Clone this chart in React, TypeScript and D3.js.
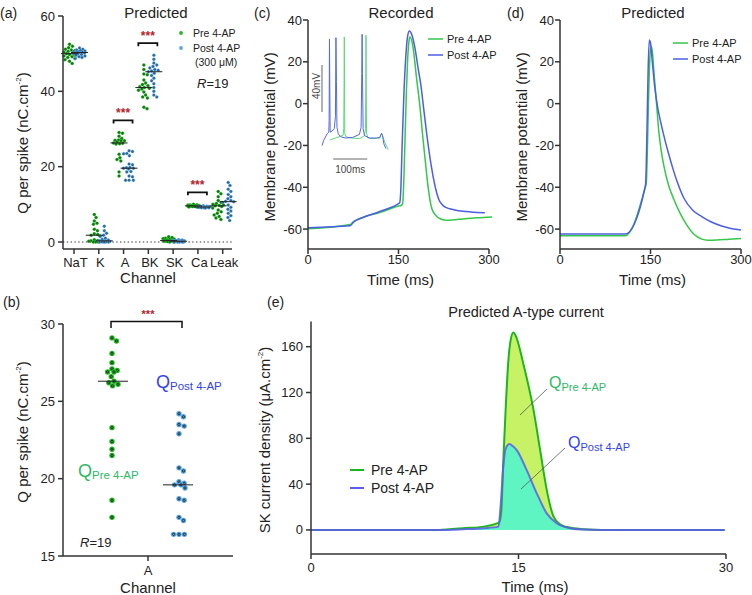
import React from "react";
import * as d3 from "d3";

const FONT = "'Liberation Sans', Arial, Helvetica, sans-serif";
const GREEN_DOT = "#25b825";
const BLUE_DOT = "#5aa4ec";
const GREEN_LINE = "#34c74a";
const BLUE_LINE = "#4b5fe2";
const AXIS = "#333";
const STAR = "#b3232a";

// ---- (a) / (b) charge per spike, 19 cells each ----
const channels = ["NaT", "K", "A", "BK", "SK", "Ca", "Leak"];
const sigChannels = ["A", "BK", "Ca"];

const preNaT = [52.5, 52.0, 51.6, 51.2, 51.0, 50.8, 50.6, 50.4, 50.2, 50.0, 49.8, 49.6, 49.4, 49.2, 49.0, 48.7, 48.4, 48.0, 47.4];
const postNaT = [51.5, 51.2, 51.0, 50.8, 50.7, 50.6, 50.5, 50.4, 50.3, 50.3, 50.2, 50.1, 50.0, 49.8, 49.6, 49.4, 49.2, 49.0, 48.7];
const preK = [7.3, 6.5, 5.6, 5.0, 4.7, 3.4, 3.0, 2.2, 2.0, 1.8, 1.6, 0.6, 0.3, 0.1, 0, 0, 0, 0.2, 0.4];
const postK = [4.2, 3.0, 2.3, 1.8, 1.5, 1.0, 0.7, 0.5, 0.3, 0.2, 0.1, 0, 0, 0, 0.1, 0.2, 0.3, 0, 0];
const preA = [29.1, 28.9, 28.1, 27.5, 27.1, 27.0, 26.9, 26.9, 26.6, 26.3, 26.2, 26.1, 26.0, 23.3, 22.4, 21.9, 21.5, 18.6, 17.5];
const postA = [24.2, 24.0, 23.5, 23.4, 22.9, 20.7, 20.5, 19.8, 19.7, 19.6, 19.6, 19.4, 18.7, 18.6, 17.5, 17.3, 16.4, 16.4, 16.4];
const preBK = [47.0, 45.8, 44.6, 44.4, 43.0, 42.2, 41.8, 41.5, 41.2, 41.0, 40.8, 40.6, 40.3, 39.8, 39.0, 38.5, 38.2, 35.8, 35.4];
const postBK = [49.6, 48.5, 47.5, 47.0, 46.6, 46.2, 45.8, 45.6, 45.4, 45.2, 44.8, 44.2, 43.5, 42.8, 42.0, 41.0, 40.0, 39.0, 38.5];
const preSK = [1.4, 1.2, 1.0, 0.9, 0.8, 0.7, 0.6, 0.5, 0.5, 0.4, 0.4, 0.3, 0.3, 0.2, 0.2, 0.1, 0.1, 0, 0];
const postSK = [0.6, 0.5, 0.4, 0.4, 0.3, 0.3, 0.3, 0.2, 0.2, 0.2, 0.1, 0.1, 0.1, 0.1, 0, 0, 0, 0, 0];
const preCa = [10.0, 9.9, 9.8, 9.8, 9.7, 9.7, 9.7, 9.6, 9.6, 9.6, 9.6, 9.5, 9.5, 9.5, 9.4, 9.4, 9.4, 9.3, 9.3];
const postCa = [9.6, 9.5, 9.5, 9.4, 9.4, 9.4, 9.3, 9.3, 9.3, 9.3, 9.3, 9.2, 9.2, 9.2, 9.2, 9.1, 9.1, 9.1, 9.0];
const preLeak = [13.4, 12.8, 12.0, 11.0, 10.5, 10.2, 10.0, 9.8, 9.7, 9.6, 9.4, 9.0, 8.5, 8.0, 7.6, 7.2, 6.8, 6.4, 6.0];
const postLeak = [15.8, 15.0, 14.0, 13.4, 12.6, 12.0, 11.5, 11.0, 10.8, 10.7, 10.5, 9.8, 9.2, 8.7, 8.2, 7.6, 7.0, 6.5, 5.7];

const preByChannel = [preNaT, preK, preA, preBK, preSK, preCa, preLeak];
const postByChannel = [postNaT, postK, postA, postBK, postSK, postCa, postLeak];

const ticksA = [0, 20, 40, 60];
const ticksB = [15, 20, 25, 30];

// ---- (c) recorded AP ----
const recPreT = [0, 70, 75, 90, 120, 150, 155, 157, 159, 161, 163, 165, 167, 169, 174, 180, 185, 190, 196, 200, 205, 212, 220, 230, 250, 280, 305];
const recPreV = [-59.8, -57.8, -56.5, -54.5, -52, -49, -48.6, -47.5, -35, -15, 5, 20, 29, 32, 27, 12, 0, -15, -32, -42, -50, -53.5, -55.2, -55.8, -55.3, -54.6, -54.2];
const recPostT = [0, 70, 75, 90, 120, 150, 152, 154, 156, 159, 162, 165, 168, 172, 177, 183, 187, 192, 197, 205, 211, 217, 225, 235, 250, 270, 293];
const recPostV = [-59.3, -58.4, -56.8, -54.6, -51.5, -47.8, -47.4, -40, -20, 5, 22, 32, 34.7, 33, 27, 16, 9, -3, -15, -31, -40, -46, -49, -50.3, -51.2, -51.8, -52.2];

// inset: spike train (ms, mV)
const insetPreT = [23, 35, 50, 62, 64, 65, 65.6, 66.3, 67, 70, 85, 110, 125, 128, 129, 129.4, 130, 131, 135, 150, 170, 175, 178, 185, 195];
const insetPreV = [-61.7, -60.5, -59, -57.5, -52, -10, 26, -10, -56, -59, -60, -60.5, -58, -52, -10, 27.5, -10, -56, -60, -60.5, -60, -56, -58, -64, -70];
const insetPostT = [0, 5, 15, 20, 21, 22, 23, 24, 30, 36, 39.5, 41, 42.5, 44, 48, 55, 70, 90, 110, 115, 117, 118, 119, 121, 125, 140, 160, 170, 175, 178, 182, 188];
const insetPostV = [-66.5, -62, -56.5, -55, -45, 24.3, -20, -55, -54, -52, -42, 25.4, -12, -51, -56.5, -59, -60, -59.5, -57, -51, -5, 28.3, -5, -52, -58, -60, -60, -59.5, -56, -58, -65, -69];

// ---- (d) predicted AP ----
const predPreT = [0, 108, 140, 143, 145, 147, 149, 151, 153, 156, 160, 164, 168, 173, 180, 189, 200, 210, 222, 235, 245, 260, 280, 300];
const predPreV = [-63.2, -63.2, -41.3, -38, -20, 5, 22, 27.5, 25, 14, 0, -14, -23, -31, -39, -46, -53, -58, -62.5, -64.8, -65.3, -65.2, -64.8, -64.5];
const predPostT = [0, 108, 140, 142, 144, 146, 148, 150, 153, 157, 162, 167, 171, 180, 186, 195, 205, 220, 235, 250, 268, 285, 300];
const predPostV = [-62.4, -62.4, -41.3, -38, -15, 15, 30.4, 29, 20, 8, -2, -9, -14, -24, -30, -38, -45, -51, -54, -56.5, -58.5, -59.8, -60.4];

// ---- (e) predicted A-type current ----
const curPreT = [0, 9.3, 10, 11, 12.5, 13.5, 13.6, 13.75, 13.9, 14.05, 14.25, 14.45, 14.63, 14.85, 15.35, 16.08, 16.56, 17.04, 17.52, 18.0, 18.5, 19.7, 21, 29.9];
const curPreV = [0, 0, 0.6, 1.5, 2.9, 6, 6.5, 15, 60, 100, 145, 167, 172.5, 168, 145, 105, 70, 35, 12, 5, 2.5, 0.6, 0, 0];
const curPostT = [0, 9.3, 11, 12.5, 13.55, 13.7, 13.9, 14.05, 14.34, 14.6, 14.87, 15.6, 16.32, 17.04, 17.76, 18.73, 19.7, 21, 29.9];
const curPostV = [0, 0, 0.6, 1.5, 2.9, 20, 55, 70, 75, 73, 69.8, 52, 32, 14.5, 5.8, 1.5, 0.3, 0, 0];

type Pt = { x: number; y: number };

// simple beeswarm: keep dots from overlapping, bounded width
function swarm(vals: number[], y: (v: number) => number, cx: number, r: number, maxHalf: number): Pt[] {
  const placed: Pt[] = [];
  const d = 2 * r;
  const sorted = [...vals].sort((a, b) => b - a);
  for (const v of sorted) {
    const py = y(v);
    const cands = [cx];
    for (const p of placed) {
      const dy = Math.abs(p.y - py);
      if (dy < d) {
        const dx = Math.sqrt(d * d - dy * dy);
        cands.push(p.x + dx + 0.01, p.x - dx - 0.01);
      }
    }
    const inBounds = cands.filter((c) => Math.abs(c - cx) <= maxHalf);
    inBounds.sort((a, b) => Math.abs(a - cx) - Math.abs(b - cx));
    let x = inBounds.find((c) => placed.every((p) => (p.x - c) ** 2 + (p.y - py) ** 2 >= d * d - 0.05));
    if (x === undefined) {
      // nothing free: take the least crowded spot
      let best = cx;
      let bestD = -1;
      for (let c = cx - maxHalf; c <= cx + maxHalf; c += 0.5) {
        const m = d3.min(placed, (p) => (p.x - c) ** 2 + (p.y - py) ** 2) ?? 1e9;
        if (m > bestD) { bestD = m; best = c; }
      }
      x = best;
    }
    placed.push({ x, y: py });
  }
  return placed;
}

function Dot({ x, y, r, fill }: { x: number; y: number; r: number; fill: string }) {
  return (
    <g>
      <circle cx={x} cy={y} r={r} fill={fill} />
      <circle cx={x} cy={y} r={r * 0.42} fill="none" stroke="#102a14" strokeWidth={r * 0.32} />
    </g>
  );
}

const T = (props: any) => <text fontFamily={FONT} fill="#222" {...props} />;

function PanelA() {
  const y = d3.scaleLinear().domain([0, 60]).range([242, 16]);
  const x = d3.scalePoint<string>().domain(channels).range([74, 222.7]);
  const r = 1.75;
  return (
    <g>
      <T x={0} y={18} fontSize={14}>(a)</T>
      <T x={156} y={18} fontSize={15} textAnchor="middle">Predicted</T>
      {/* zero line */}
      <line x1={63} x2={232} y1={y(0)} y2={y(0)} stroke="#333" strokeDasharray="1.4 2.4" strokeWidth={1} />
      {channels.map((c, i) => {
        const cx = x(c)!;
        const pre = swarm(preByChannel[i], y, cx - 4.5, r, 5.5);
        const post = swarm(postByChannel[i], y, cx + 5.5, r, 5.5);
        const mPre = y(d3.median(preByChannel[i])!);
        const mPost = y(d3.median(postByChannel[i])!);
        return (
          <g key={c}>
            {pre.map((p, j) => <Dot key={"a" + j} x={p.x} y={p.y} r={r} fill={GREEN_DOT} />)}
            {post.map((p, j) => <Dot key={"b" + j} x={p.x} y={p.y} r={r} fill={BLUE_DOT} />)}
            <line x1={cx - 13} x2={cx + 4} y1={mPre} y2={mPre} stroke="#222" strokeWidth={1} />
            <line x1={cx - 3} x2={cx + 14} y1={mPost} y2={mPost} stroke="#222" strokeWidth={1} />
          </g>
        );
      })}
      {sigChannels.map((c) => {
        const i = channels.indexOf(c);
        const cx = x(c)!;
        const top = y(Math.max(...preByChannel[i], ...postByChannel[i])) - 12;
        return (
          <g key={c}>
            <path d={`M${cx - 10},${top + 3}V${top}H${cx + 9}V${top + 3}`} fill="none" stroke="#111" strokeWidth={1.8} />
            <T x={cx - 0.5} y={top - 3} fontSize={12} fill={STAR} textAnchor="middle" fontWeight="bold">***</T>
          </g>
        );
      })}
      {/* axes */}
      <line x1={63} x2={63} y1={y(60)} y2={249} stroke={AXIS} strokeWidth={1.5} />
      {ticksA.map((t) => (
        <g key={t}>
          <line x1={58} x2={63} y1={y(t)} y2={y(t)} stroke={AXIS} strokeWidth={1.5} />
          <T x={55} y={y(t) + 4.5} fontSize={13} textAnchor="end">{t}</T>
        </g>
      ))}
      <line x1={63} x2={232} y1={249} y2={249} stroke={AXIS} strokeWidth={1.5} />
      {channels.map((c) => (
        <g key={c}>
          <line x1={x(c)} x2={x(c)} y1={249} y2={254} stroke={AXIS} strokeWidth={1.5} />
          <T x={x(c)! + 1.5} y={267} fontSize={13} textAnchor="middle">{c}</T>
        </g>
      ))}
      <T x={148} y={283} fontSize={15} textAnchor="middle">Channel</T>
      <T transform="translate(28,143) rotate(-90)" fontSize={15} textAnchor="middle">
        Q per spike  (nC.cm<tspan fontSize={8} dy={-7}>-2</tspan><tspan dy={7}>)</tspan>
      </T>
      {/* legend */}
      <circle cx={181} cy={33} r={1.9} fill={GREEN_DOT} />
      <T x={193} y={37} fontSize={10.5}>Pre 4-AP</T>
      <circle cx={181} cy={48} r={1.9} fill={BLUE_DOT} />
      <T x={193} y={52} fontSize={10.5}>Post 4-AP</T>
      <T x={195} y={66} fontSize={10.5}>(300 μM)</T>
      <T x={197} y={88} fontSize={13}><tspan fontStyle="italic">R</tspan>=19</T>
    </g>
  );
}

function PanelB() {
  const y = d3.scaleLinear().domain([15, 30]).range([556, 324]);
  const x = d3.scalePoint<string>().domain(["A"]).range([63, 233]).padding(0.5);
  const cx = x("A")!;
  const r = 2.7;
  const pre = swarm(preA, y, cx - 36, r, 6);
  const post = swarm(postA, y, cx + 31, r, 6);
  const mPre = y(d3.median(preA)!);
  const mPost = y(d3.median(postA)!);
  return (
    <g>
      <T x={3} y={307} fontSize={14}>(b)</T>
      {pre.map((p, j) => <Dot key={"a" + j} x={p.x} y={p.y} r={r} fill={GREEN_DOT} />)}
      {post.map((p, j) => <Dot key={"b" + j} x={p.x} y={p.y} r={r} fill={BLUE_DOT} />)}
      <line x1={cx - 50} x2={cx - 20} y1={mPre} y2={mPre} stroke="#222" strokeWidth={1} />
      <line x1={cx + 15} x2={cx + 45} y1={mPost} y2={mPost} stroke="#222" strokeWidth={1} />
      <path d={`M${cx - 37},${y(30) + 4}V${y(30) - 2.5}H${cx + 34}V${y(30) + 4}`} fill="none" stroke="#111" strokeWidth={1.5} />
      <T x={cx} y={y(30) - 6.5} fontSize={11} fill={STAR} textAnchor="middle" fontWeight="bold">***</T>
      <line x1={63} x2={63} y1={y(30)} y2={y(15)} stroke={AXIS} strokeWidth={1.5} />
      {ticksB.map((t) => (
        <g key={t}>
          <line x1={58} x2={63} y1={y(t)} y2={y(t)} stroke={AXIS} strokeWidth={1.5} />
          <T x={55} y={y(t) + 4.5} fontSize={13} textAnchor="end">{t}</T>
        </g>
      ))}
      <line x1={63} x2={233} y1={y(15)} y2={y(15)} stroke={AXIS} strokeWidth={1.5} />
      <line x1={cx} x2={cx} y1={y(15)} y2={y(15) + 5} stroke={AXIS} strokeWidth={1.5} />
      <T x={cx} y={575} fontSize={13} textAnchor="middle">A</T>
      <T x={cx} y={593} fontSize={15} textAnchor="middle">Channel</T>
      <T transform="translate(28,432) rotate(-90)" fontSize={15} textAnchor="middle">
        Q per spike  (nC.cm<tspan fontSize={8} dy={-7}>-2</tspan><tspan dy={7}>)</tspan>
      </T>
      <T x={78} y={477} fontSize={18} fill="#2fb866">Q<tspan fontSize={11.5} dy={2}>Pre 4-AP</tspan></T>
      <T x={156} y={388} fontSize={18} fill="#3344ee">Q<tspan fontSize={11.5} dy={2}>Post 4-AP</tspan></T>
      <T x={80} y={547} fontSize={13}><tspan fontStyle="italic">R</tspan>=19</T>
    </g>
  );
}

function VoltagePanel({ label, labelX, title, x0, pre, post, legend, inset }: any) {
  const x = d3.scaleLinear().domain([0, 300]).range([x0, x0 + 181]);
  const y = d3.scaleLinear().domain([-70, 40]).range([250, 20]);
  const line = d3.line<[number, number]>().x((d) => x(d[0])).y((d) => y(d[1])).curve(d3.curveMonotoneX);
  return (
    <g>
      <T x={labelX} y={18} fontSize={14}>{label}</T>
      <T x={x0 + 93} y={18} fontSize={15} textAnchor="middle">{title}</T>
      {inset}
      <path d={line(pre) ?? ""} fill="none" stroke={GREEN_LINE} strokeWidth={1.5} />
      <path d={line(post) ?? ""} fill="none" stroke={BLUE_LINE} strokeWidth={1.5} />
      <line x1={x0} x2={x0} y1={y(40)} y2={y(-70) - 1} stroke={AXIS} strokeWidth={1.5} />
      {y.ticks(6).filter((t) => t >= -60).map((t) => (
        <g key={t}>
          <line x1={x0 - 5} x2={x0} y1={y(t)} y2={y(t)} stroke={AXIS} strokeWidth={1.5} />
          <T x={x0 - 6} y={y(t) + 4.5} fontSize={13} textAnchor="end">{t}</T>
        </g>
      ))}
      <line x1={x0} x2={x(300)} y1={y(-70) - 1} y2={y(-70) - 1} stroke={AXIS} strokeWidth={1.5} />
      {[0, 150, 300].map((t) => (
        <g key={t}>
          <line x1={x(t)} x2={x(t)} y1={y(-70) - 1} y2={y(-70) + 4} stroke={AXIS} strokeWidth={1.5} />
          <T x={x(t)} y={264} fontSize={13} textAnchor="middle">{t}</T>
        </g>
      ))}
      <T x={x(150) + 2} y={285} fontSize={15} textAnchor="middle">Time (ms)</T>
      <T transform={`translate(${x0 - 33},137) rotate(-90)`} fontSize={15} textAnchor="middle">
        Membrane potential (mV)
      </T>
      <line x1={legend.x} x2={legend.x + 15} y1={legend.y} y2={legend.y} stroke={GREEN_LINE} strokeWidth={1.5} />
      <T x={legend.x + 19} y={legend.y + 4} fontSize={11}>Pre 4-AP</T>
      <line x1={legend.x} x2={legend.x + 15} y1={legend.y + 16} y2={legend.y + 16} stroke={BLUE_LINE} strokeWidth={1.5} />
      <T x={legend.x + 19} y={legend.y + 20} fontSize={11}>Post 4-AP</T>
    </g>
  );
}

function Inset() {
  const x = d3.scaleLinear().domain([0, 100]).range([322, 356]);
  const y = d3.scaleLinear().domain([-60, -20]).range([138, 91]);
  const line = d3.line<[number, number]>().x((d) => x(d[0])).y((d) => y(d[1]));
  const pre = d3.zip(insetPreT, insetPreV) as [number, number][];
  const post = d3.zip(insetPostT, insetPostV) as [number, number][];
  return (
    <g>
      <path d={line(pre) ?? ""} fill="none" stroke="#5fd87a" strokeWidth={1} />
      <path d={line(post) ?? ""} fill="none" stroke="#5668e6" strokeWidth={1} />
      <line x1={322} x2={322} y1={y(-20) - 26} y2={y(-20) + 21} stroke="#666" strokeWidth={1} />
      <T transform="translate(320,86) rotate(-90)" fontSize={10} fill="#444" textAnchor="middle">40mV</T>
      <line x1={x(33)} x2={x(133)} y1={159} y2={159} stroke="#666" strokeWidth={1} />
      <T x={x(83)} y={173} fontSize={10} fill="#444" textAnchor="middle">100ms</T>
    </g>
  );
}

function PanelE() {
  const x = d3.scaleLinear().domain([0, 30]).range([311, 726]);
  const y = d3.scaleLinear().domain([-21, 182]).range([554, 321.5]);
  const pre = d3.zip(curPreT, curPreV) as [number, number][];
  const post = d3.zip(curPostT, curPostV) as [number, number][];
  const area = d3.area<[number, number]>().x((d) => x(d[0])).y0(y(0)).y1((d) => y(d[1])).curve(d3.curveMonotoneX);
  const line = d3.line<[number, number]>().x((d) => x(d[0])).y((d) => y(d[1])).curve(d3.curveMonotoneX);
  return (
    <g>
      <T x={267} y={307} fontSize={14}>(e)</T>
      <T x={526} y={317} fontSize={14.5} textAnchor="middle">Predicted A-type current</T>
      <path d={area(pre) ?? ""} fill="#c7f266" />
      <path d={area(post) ?? ""} fill="#5ff5c2" />
      <path d={line(pre) ?? ""} fill="none" stroke="#1fb51f" strokeWidth={2} />
      <path d={line(post) ?? ""} fill="none" stroke="#5b5cf0" strokeWidth={2} strokeOpacity={0.85} />
      <line x1={311} x2={311} y1={y(182)} y2={y(-21)} stroke={AXIS} strokeWidth={1.5} />
      {[0, 40, 80, 120, 160].map((t) => (
        <g key={t}>
          <line x1={306} x2={311} y1={y(t)} y2={y(t)} stroke={AXIS} strokeWidth={1.5} />
          <T x={303} y={y(t) + 4.5} fontSize={13} textAnchor="end">{t}</T>
        </g>
      ))}
      <line x1={311} x2={726} y1={y(-21)} y2={y(-21)} stroke={AXIS} strokeWidth={1.5} />
      {[0, 15, 30].map((t) => (
        <g key={t}>
          <line x1={x(t)} x2={x(t)} y1={y(-21)} y2={y(-21) + 5} stroke={AXIS} strokeWidth={1.5} />
          <T x={x(t)} y={572} fontSize={13} textAnchor="middle">{t}</T>
        </g>
      ))}
      <T x={535} y={592} fontSize={15} textAnchor="middle">Time (ms)</T>
      <T transform="translate(270,440) rotate(-90)" fontSize={15} textAnchor="middle">
        SK current density (μA.cm<tspan fontSize={8} dy={-7}>-2</tspan><tspan dy={7}>)</tspan>
      </T>
      <line x1={350} x2={364} y1={470} y2={470} stroke="#1fb51f" strokeWidth={2} />
      <T x={371} y={475} fontSize={14}>Pre 4-AP</T>
      <line x1={350} x2={364} y1={488} y2={488} stroke="#5b5cf0" strokeWidth={2} />
      <T x={371} y={493} fontSize={14}>Post 4-AP</T>
      <line x1={547} x2={520} y1={389} y2={415} stroke="#555" strokeWidth={0.8} />
      <line x1={565} x2={521} y1={448} y2={489} stroke="#555" strokeWidth={0.8} />
      <T x={549} y={388} fontSize={16} fill="#2fb866">Q<tspan fontSize={11} dy={3}>Pre 4-AP</tspan></T>
      <T x={568} y={448} fontSize={16} fill="#3344ee">Q<tspan fontSize={11} dy={3}>Post 4-AP</tspan></T>
    </g>
  );
}

export default function App() {
  const recPre = d3.zip(recPreT, recPreV) as [number, number][];
  const recPost = d3.zip(recPostT, recPostV) as [number, number][];
  const predPre = d3.zip(predPreT, predPreV) as [number, number][];
  const predPost = d3.zip(predPostT, predPostV) as [number, number][];
  return (
    <svg width={752} height={595} style={{ position: "absolute", left: 0, top: 0, background: "#fff" }}>
      <PanelA />
      <PanelB />
      <VoltagePanel label="(c)" labelX={254} title="Recorded" x0={308} pre={recPre} post={recPost}
        legend={{ x: 428, y: 39 }} inset={<Inset />} />
      <VoltagePanel label="(d)" labelX={507} title="Predicted" x0={560} pre={predPre} post={predPost}
        legend={{ x: 673, y: 43 }} />
      <PanelE />
    </svg>
  );
}
